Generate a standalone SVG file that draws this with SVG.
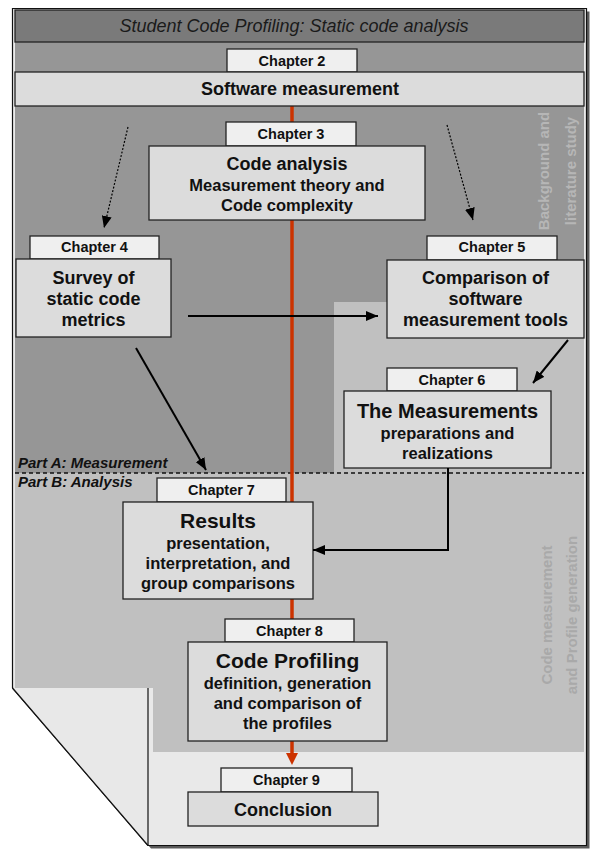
<svg xmlns="http://www.w3.org/2000/svg" width="590" height="851" viewBox="0 0 590 851">
  <defs>
    <style>
      text { font-family: "Liberation Sans", Arial, sans-serif; fill: #111; }
      .tab { fill: #efefef; stroke: #222; stroke-width: 1.3; }
      .box { fill: #dcdcdc; stroke: #222; stroke-width: 1.3; }
      .tabt { font-size: 14.5px; font-weight: bold; text-anchor: middle; }
      .head { font-size: 18px; font-weight: bold; text-anchor: middle; }
      .big { font-size: 21px; font-weight: bold; text-anchor: middle; }
      .sub { font-size: 16.5px; font-weight: bold; text-anchor: middle; }
      .side { font-size: 15px; font-weight: bold; text-anchor: middle; }
      .part { font-size: 15px; font-weight: bold; font-style: italic; }
      .conn { fill: none; stroke: #000; stroke-width: 2; }
      .dot { fill: none; stroke: #000; stroke-width: 1.2; stroke-dasharray: 2 1.6; }
    </style>
    <marker id="arrow" markerUnits="userSpaceOnUse" markerWidth="12" markerHeight="10" refX="12" refY="5" orient="auto">
      <path d="M0,0 L12,5 L0,10 z" fill="#000"/>
    </marker>
  </defs>

  <!-- page with folded corner -->
  <g id="page">
    <polygon points="15.5,11.5 589.5,11.5 589.5,848.5 151,848.5 15.5,691" fill="#5a5a5a"/>
    <polygon points="12.5,8.5 586.5,8.5 586.5,845.5 148,845.5 12.5,688" fill="#e9e9e9" stroke="#111" stroke-width="1.2"/>
  </g>

  <!-- section backgrounds -->
  <g id="sections">
    <polygon points="334,302 584,302 584,752 153,752 153,688 15,688 15,473 334,473" fill="#c0c0c0"/>
    <polygon points="15,42 584,42 584,302 334,302 334,473 15,473" fill="#969696"/>
    <polygon points="12.5,688 148,688 148,845.5" fill="#e8e8e8"/>
    <line x1="12.5" y1="688" x2="148" y2="845.5" stroke="#111" stroke-width="1.2"/>
    <line x1="148" y1="688" x2="148" y2="845.5" stroke="#111" stroke-width="1.2"/>
    <line x1="15" y1="473" x2="584" y2="473" stroke="#111" stroke-width="1.5" stroke-dasharray="4 3"/>
    <text class="part" x="18" y="468">Part A: Measurement</text>
    <text class="part" x="18" y="487">Part B: Analysis</text>
    <text class="side" style="fill:#b6b6b6" transform="translate(549,171) rotate(-90)">Background and</text>
    <text class="side" style="fill:#b6b6b6" transform="translate(576,171) rotate(-90)">literature study</text>
    <text class="side" style="fill:#a9a9a9" transform="translate(552,615) rotate(-90)">Code measurement</text>
    <text class="side" style="fill:#a9a9a9" transform="translate(577,615) rotate(-90)">and Profile generation</text>
  </g>

  <!-- main reading path -->
  <g id="spine">
    <line x1="292" y1="106" x2="292" y2="754" stroke="#cc3300" stroke-width="3.5"/>
    <polygon points="286,753 298,753 292,765" fill="#cc3300"/>
  </g>

  <g id="title">
    <rect x="15" y="10" width="569" height="32" fill="#7a7a7a" stroke="#222" stroke-width="1.3"/>
    <text x="294" y="32" style="font-size:18px;font-style:italic;text-anchor:middle;fill:#1a1a1a">Student Code Profiling: Static code analysis</text>
  </g>

  <g id="ch2">
    <rect class="tab" x="227" y="49" width="130" height="23"/>
    <text class="tabt" x="292" y="66">Chapter 2</text>
    <rect class="box" x="15" y="72" width="569" height="34"/>
    <text class="head" x="300" y="95">Software measurement</text>
  </g>

  <g id="ch3">
    <rect class="tab" x="226" y="122" width="130" height="24"/>
    <text class="tabt" x="291" y="139">Chapter 3</text>
    <rect class="box" x="149" y="146" width="276" height="74"/>
    <text class="head" x="287" y="170">Code analysis</text>
    <text class="sub" x="287" y="191">Measurement theory and</text>
    <text class="sub" x="287" y="211">Code complexity</text>
  </g>

  <g id="ch4">
    <rect class="tab" x="30" y="236" width="129" height="23"/>
    <text class="tabt" x="94.5" y="252">Chapter 4</text>
    <rect class="box" x="16" y="259" width="155" height="78"/>
    <text class="head" x="93.5" y="284">Survey of</text>
    <text class="head" x="93.5" y="305">static code</text>
    <text class="head" x="93.5" y="326">metrics</text>
  </g>

  <g id="ch5">
    <rect class="tab" x="427" y="236" width="130" height="24"/>
    <text class="tabt" x="492" y="252">Chapter 5</text>
    <rect class="box" x="387" y="260" width="197" height="78"/>
    <text class="head" x="485.5" y="284">Comparison of</text>
    <text class="head" x="485.5" y="305">software</text>
    <text class="head" x="485.5" y="326">measurement tools</text>
  </g>

  <g id="ch6">
    <rect class="tab" x="387" y="368" width="130" height="23"/>
    <text class="tabt" x="452" y="385">Chapter 6</text>
    <rect class="box" x="344" y="391" width="207" height="77"/>
    <text class="head" x="447.5" y="418" style="font-size:20px">The Measurements</text>
    <text class="sub" x="447.5" y="439">preparations and</text>
    <text class="sub" x="447.5" y="459">realizations</text>
  </g>

  <g id="ch7">
    <rect class="tab" x="157" y="478" width="129" height="24"/>
    <text class="tabt" x="221.5" y="495">Chapter 7</text>
    <rect class="box" x="123" y="502" width="190" height="97"/>
    <text class="big" x="218" y="528">Results</text>
    <text class="sub" x="218" y="549">presentation,</text>
    <text class="sub" x="218" y="569">interpretation, and</text>
    <text class="sub" x="218" y="589">group comparisons</text>
  </g>

  <g id="ch8">
    <rect class="tab" x="225" y="619" width="129" height="23"/>
    <text class="tabt" x="289.5" y="636">Chapter 8</text>
    <rect class="box" x="188" y="642" width="199" height="99"/>
    <text class="big" x="287.5" y="668">Code Profiling</text>
    <text class="sub" x="287.5" y="689">definition, generation</text>
    <text class="sub" x="287.5" y="709">and comparison of</text>
    <text class="sub" x="287.5" y="729">the profiles</text>
  </g>

  <g id="ch9">
    <rect class="tab" x="221" y="768" width="131" height="24"/>
    <text class="tabt" x="286.5" y="785">Chapter 9</text>
    <rect class="box" x="188" y="792" width="190" height="34"/>
    <text class="head" x="283" y="816">Conclusion</text>
  </g>

  <g id="connectors">
    <line class="dot" x1="128" y1="127" x2="104" y2="228" marker-end="url(#arrow)"/>
    <line class="dot" x1="447" y1="125" x2="473" y2="220" marker-end="url(#arrow)"/>
    <line class="conn" x1="188" y1="316" x2="378" y2="316" marker-end="url(#arrow)"/>
    <line class="conn" x1="136" y1="348" x2="206" y2="470" marker-end="url(#arrow)"/>
    <line class="conn" x1="568" y1="340" x2="533" y2="383" marker-end="url(#arrow)"/>
    <polyline class="conn" points="448,468 448,550 313,550" marker-end="url(#arrow)"/>
  </g>
</svg>
